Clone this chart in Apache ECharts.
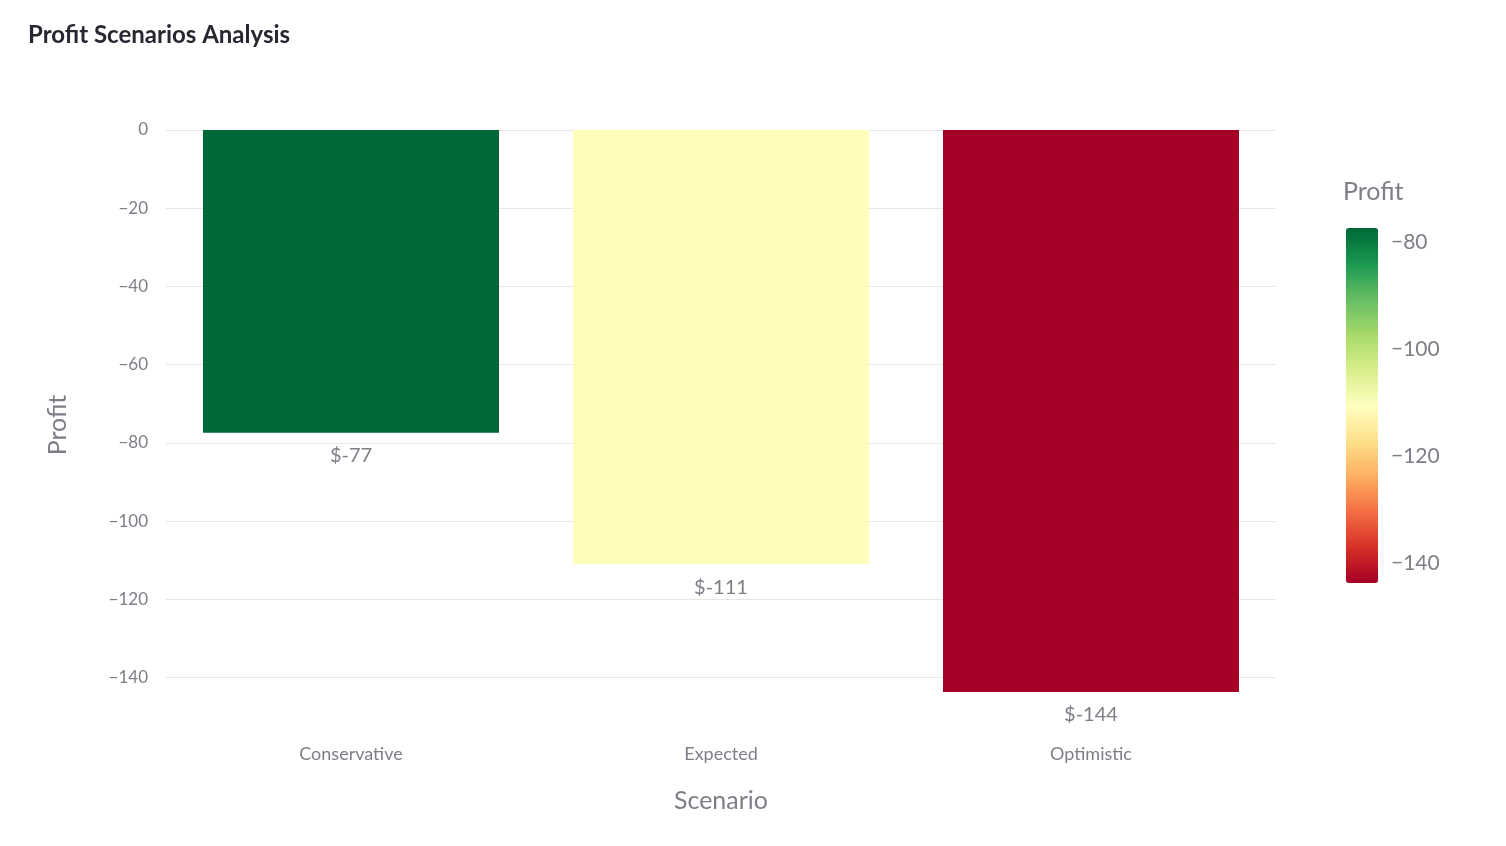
<!DOCTYPE html>
<html><head><meta charset="utf-8">
<script src="https://cdn.jsdelivr.net/npm/echarts@6/dist/echarts.min.js"></script>
<style>html,body{margin:0;padding:0;background:#fff}#c{width:1506px;height:846px}</style>
</head><body><div id="c"></div>
<script>
const categories = ['Conservative', 'Expected', 'Optimistic'];
const profits = [-77.4, -111, -143.7];
const yTicks = [0, -20, -40, -60, -80, -100, -120, -140];
const colorbarTicks = [-80, -100, -120, -140];
const rdYlGn = ['#a50026','#d73027','#f46d43','#fdae61','#fee08b','#ffffbf','#d9ef8b','#a6d96a','#66bd63','#1a9850','#006837'];

const vMin = Math.min(...profits), vMax = Math.max(...profits);
const font = 'Lato, "Noto Sans", sans-serif';
const gray = '#7d7f87';

const chart = echarts.init(document.getElementById('c'));
chart.setOption({
  animation: false,
  textStyle: { fontFamily: font },
  title: [
    { text: 'Profit Scenarios Analysis', left: 23, top: 18,
      textStyle: { fontFamily: font, fontSize: 24, fontWeight: 'bold', color: '#262730' } },
    { text: 'Profit', left: 1338, top: 174,
      textStyle: { fontFamily: font, fontSize: 25, fontWeight: 'normal', color: gray } }
  ],
  grid: [
    { left: 166, right: 230, top: 130, bottom: 154, containLabel: false },
    { left: 1346, top: 228, width: 32, height: 355, containLabel: false }
  ],
  xAxis: [
    { type: 'category', data: categories, gridIndex: 0,
      axisLine: { show: false }, axisTick: { show: false },
      axisLabel: { color: gray, fontSize: 18, margin: 53 },
      name: 'Scenario', nameLocation: 'middle', nameGap: 96,
      nameTextStyle: { color: gray, fontSize: 25 } },
    { type: 'value', gridIndex: 1, show: false, min: 0, max: 1 }
  ],
  yAxis: [
    { type: 'value', gridIndex: 0, min: vMin, max: 0,
      axisLine: { show: false }, axisTick: { show: false, customValues: yTicks },
      axisLabel: { color: gray, fontSize: 17, margin: 18, customValues: yTicks,
        formatter: v => (v < 0 ? '\u2212' + Math.abs(v) : '' + v) },
      splitLine: { show: true, lineStyle: { color: '#e6e6e6', width: 1 } },
      name: 'Profit', nameLocation: 'middle', nameGap: 96, nameRotate: 90,
      nameTextStyle: { color: gray, fontSize: 25, padding: [0, 28, 0, 0] } },
    { type: 'value', gridIndex: 1, min: vMin, max: vMax, position: 'right',
      axisLine: { show: false }, axisTick: { show: false, customValues: colorbarTicks },
      splitLine: { show: false },
      axisLabel: { color: gray, fontSize: 21, margin: 13, customValues: colorbarTicks,
        formatter: v => (v < 0 ? '\u2212' + Math.abs(v) : '' + v) } }
  ],
  visualMap: {
    type: 'continuous', seriesIndex: 0, min: vMin, max: vMax,
    left: 1346, top: 228, itemWidth: 32, itemHeight: 355, padding: 0,
    calculable: false, text: null, showLabel: false, hoverLink: false,
    inRange: { color: rdYlGn }
  },
  series: [{
    type: 'bar', xAxisIndex: 0, yAxisIndex: 0, data: profits,
    barCategoryGap: '20%',
    label: { show: true, position: 'outside', distance: 13, color: gray, fontSize: 20,
      formatter: p => '$' + Math.round(p.value) }
  }]
});
</script></body></html>
